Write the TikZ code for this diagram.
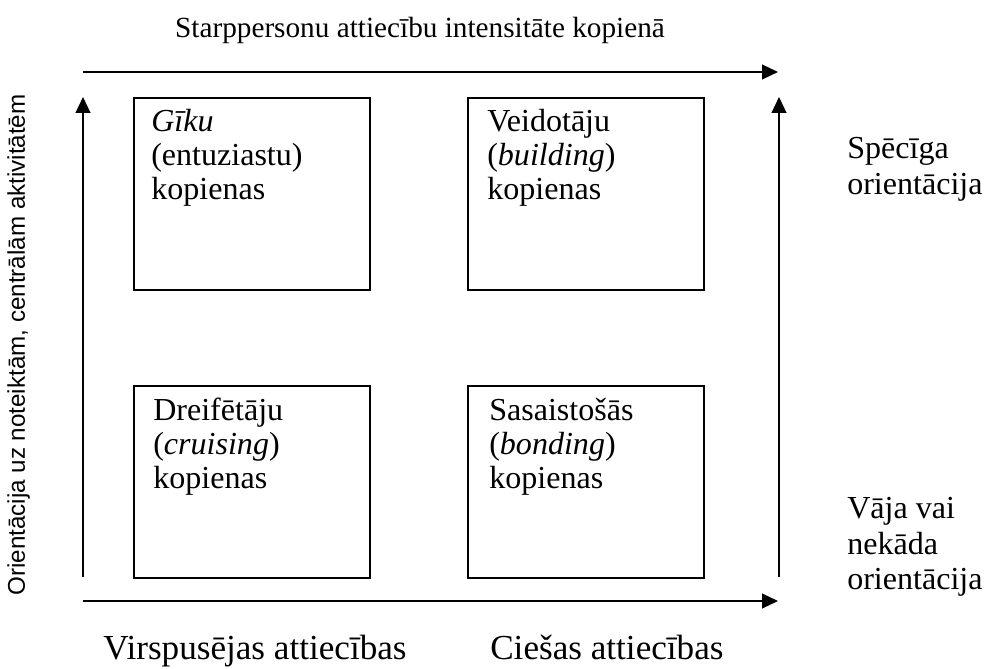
\documentclass[tikz,border=0pt]{standalone}
\usepackage{fontspec}
\setmainfont{Liberation Serif}
\newfontfamily\sidefont{Liberation Sans}
\usepackage{tikz}
\usetikzlibrary{positioning}
\usetikzlibrary{arrows.meta}

\begin{document}
\begin{tikzpicture}[
		axis/.style={line width=1.3pt, -{Triangle[length=0.4cm, width=0.37cm]}},
		quad/.style={draw, line width=1.1pt, minimum width=5.9cm, minimum height=4.8cm, inner sep=0pt, anchor=north west},
		txt/.style={font=\fontsize{22.8}{25.6}\selectfont, align=left, inner sep=0pt, anchor=base west},
		intxt/.style={txt, font=\fontsize{22.8}{24.2}\selectfont}]
		\useasboundingbox (0,0) rectangle (24.6,16.725);

		% ends of the four axes
		\coordinate (t0) at (2.075, 14.925);
		\coordinate (t1) at (19.45, 14.925);
		\coordinate (b0) at (2.075, 1.7);
		\coordinate (b1) at (19.45, 1.7);
		\coordinate (l0) at (2.075, 2.3);
		\coordinate (l1) at (2.075, 14.3);
		\coordinate (r0) at (19.475, 2.3);
		\coordinate (r1) at (19.475, 14.3);

		\draw[axis] (t0) -- (t1);
		\draw[axis] (b0) -- (b1);
		\draw[axis] (l0) -- (l1);
		\draw[axis] (r0) -- (r1);

		% the four kinds of communities
		\node[quad] (geek) at (3.325, 14.3) {};
		\node[quad] (build) at (11.675, 14.3) {};
		\node[quad] (cruise) at (3.325, 7.1) {};
		\node[quad] (bond) at (11.675, 7.1) {};

		% (base = last line of the text)
		\node[intxt] (geektxt) at ([shift={(0.45,-2.57)}]geek.north west) {\textit{Gīku}\\(entuziastu)\\kopienas};
		\node[intxt] (buildtxt) at ([shift={(0.5,-2.57)}]build.north west) {Veidotāju\\(\textit{building})\\kopienas};
		\node[intxt] (cruisetxt) at ([shift={(0.5,-2.6)}]cruise.north west) {Dreifētāju\\(\textit{cruising})\\kopienas};
		\node[intxt] (bondtxt) at ([shift={(0.55,-2.6)}]bond.north west) {Sasaistošās\\(\textit{bonding})\\kopienas};

		% axis labels
		\node[txt, font=\fontsize{20.8}{24}\selectfont, anchor=base] (top) at (10.5, 15.775) {Starppersonu attiecību intensitāte kopienā};
		\node[txt, font=\fontsize{25}{28}\selectfont] (weak) at (2.575, 0.225) {Virspusējas attiecības};
		\node[txt, font=\fontsize{25}{28}\selectfont] (close) at (12.25, 0.225) {Ciešas attiecības};
		\node[txt] (strong) at (21.175, 11.86) {Spēcīga\\orientācija};
		\node[txt] (none) at (21.175, 1.975) {Vāja vai\\nekāda\\orientācija};
		\node[font=\sidefont\fontsize{17.2}{20}\selectfont, inner sep=0pt, rotate=90, anchor=base] (side) at (0.625, 8.1) {Orientācija uz noteiktām, centrālām aktivitātēm};
\end{tikzpicture}
\end{document}
